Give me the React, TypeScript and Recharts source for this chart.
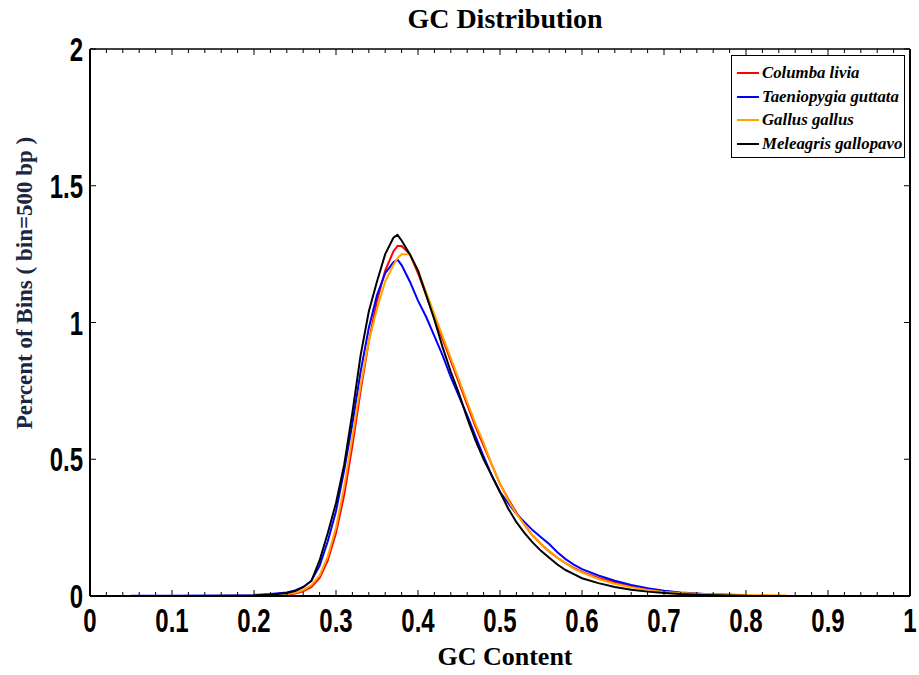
import { LineChart, Line, XAxis, YAxis } from 'recharts'

// GC content bins (x) shared by all four species
const gcContent = [
  0.05, 0.1, 0.15, 0.2, 0.22, 0.24, 0.25, 0.26, 0.27, 0.28, 0.29, 0.3, 0.31, 0.32, 0.33, 0.34, 0.35, 0.36,
  0.37, 0.375, 0.38, 0.39, 0.4, 0.41, 0.42, 0.43, 0.44, 0.45, 0.46, 0.47, 0.48, 0.49, 0.5, 0.51, 0.52,
  0.53, 0.54, 0.55, 0.56, 0.57, 0.58, 0.59, 0.6, 0.62, 0.64, 0.66, 0.68, 0.7, 0.72, 0.75, 0.8, 0.85,
]

const columbaLivia = [
  null, null, null, 0.002, 0.003, 0.005, 0.009, 0.017, 0.033, 0.066, 0.13, 0.23, 0.37, 0.55, 0.75, 0.93, 1.08, 1.19,
  1.26, 1.28, 1.28, 1.25, 1.18, 1.1, 1.02, 0.94, 0.86, 0.78, 0.7, 0.62, 0.55, 0.48, 0.41, 0.355, 0.305,
  0.26, 0.22, 0.19, 0.163, 0.14, 0.12, 0.103, 0.088, 0.066, 0.05, 0.036, 0.025, 0.017, 0.011, 0.006, 0.002, null,
]

const taeniopygiaGuttata = [
  0.001, 0.001, 0.002, 0.004, 0.007, 0.013, 0.02, 0.033, 0.056, 0.11, 0.2, 0.31, 0.46, 0.63, 0.82, 0.98, 1.1, 1.18,
  1.22, 1.23, 1.21, 1.15, 1.08, 1.02, 0.95, 0.88, 0.8, 0.73, 0.66, 0.585, 0.51, 0.44, 0.38, 0.34, 0.3,
  0.27, 0.24, 0.215, 0.19, 0.16, 0.135, 0.115, 0.098, 0.075, 0.056, 0.04, 0.028, 0.019, 0.013, 0.007, 0.003, null,
]

const gallusGallus = [
  null, null, 0.001, 0.002, 0.004, 0.007, 0.012, 0.022, 0.04, 0.075, 0.145, 0.25, 0.4, 0.58, 0.77, 0.93, 1.05, 1.15,
  1.21, 1.235, 1.25, 1.25, 1.19, 1.11, 1.03, 0.95, 0.87, 0.79, 0.71, 0.63, 0.56, 0.48, 0.41, 0.35, 0.3,
  0.26, 0.22, 0.19, 0.165, 0.14, 0.12, 0.1, 0.086, 0.062, 0.045, 0.032, 0.022, 0.015, 0.011, 0.007, 0.004, 0.002,
]

const meleagrisGallopavo = [
  null, null, null, 0.003, 0.005, 0.011, 0.018, 0.032, 0.055, 0.13, 0.23, 0.34, 0.48, 0.67, 0.88, 1.04, 1.15, 1.25,
  1.31, 1.32, 1.3, 1.25, 1.19, 1.1, 1.01, 0.91, 0.82, 0.74, 0.65, 0.57, 0.5, 0.44, 0.38, 0.32, 0.27,
  0.23, 0.195, 0.165, 0.14, 0.115, 0.095, 0.08, 0.065, 0.047, 0.033, 0.023, 0.016, 0.011, 0.007, 0.004, 0.001, null,
]

const xTicks = Array.from({ length: 51 }, (_, i) => i / 50)
const xLabels = ['0', '0.1', '0.2', '0.3', '0.4', '0.5', '0.6', '0.7', '0.8', '0.9', '1']
const yTicks = [0, 0.5, 1, 1.5, 2]
const yLabels = ['0', '0.5', '1', '1.5', '2']

// the last series is plotted on the (identical) top/right axes so those axes get drawn too
const series = [
  { key: 'columba', name: 'Columba livia', color: '#ff0000', values: columbaLivia, x: 'bottom', y: 'left' },
  { key: 'taenio', name: 'Taeniopygia guttata', color: '#0000ff', values: taeniopygiaGuttata, x: 'bottom', y: 'left' },
  { key: 'gallus', name: 'Gallus gallus', color: '#ffa500', values: gallusGallus, x: 'bottom', y: 'left' },
  { key: 'meleagris', name: 'Meleagris gallopavo', color: '#000000', values: meleagrisGallopavo, x: 'top', y: 'right' },
]

const rows = gcContent.map((x, i) => {
  const row: Record<string, number | null> = { x }
  series.forEach(s => (row[s.key] = s.values[i]))
  return row
})

const isMajor = (v: number) => Math.abs(v * 10 - Math.round(v * 10)) < 1e-6
const tickFont = { fontFamily: '"Liberation Sans", Arial, sans-serif', fontWeight: 700, fontSize: 24 }

const BottomTick = ({ x, y, payload }: any) => {
  const major = isMajor(payload.value)
  const idx = Math.round(payload.value * 10)
  return (
    <g>
      <line x1={x} x2={x} y1={y} y2={y - (major ? 6 : 4)} stroke="#000" strokeWidth={1} />
      {major && (
        <text transform={`translate(${x},${y + 36}) scale(1,1.4)`} textAnchor="middle" fill="#000" style={tickFont}>
          {xLabels[idx]}
        </text>
      )}
    </g>
  )
}

const TopTick = ({ x, y, payload }: any) => {
  const major = isMajor(payload.value)
  return <line x1={x} x2={x} y1={y} y2={y + (major ? 6 : 4)} stroke="#000" strokeWidth={1} />
}

const LeftTick = ({ x, y, payload }: any) => {
  const idx = yTicks.indexOf(payload.value)
  return (
    <g>
      <line x1={x} x2={x + 6} y1={y} y2={y} stroke="#000" strokeWidth={1} />
      <text transform={`translate(${x - 7},${y + 12}) scale(1,1.4)`} textAnchor="end" fill="#000" style={tickFont}>
        {yLabels[idx]}
      </text>
    </g>
  )
}

const RightTick = ({ x, y }: any) => <line x1={x} x2={x - 6} y1={y} y2={y} stroke="#000" strokeWidth={1} />

const serif = '"Liberation Serif", "Times New Roman", serif'

export default function App() {
  return (
    <div style={{ position: 'absolute', left: 0, top: 0, width: 919, height: 675, background: '#fff' }}>
      <LineChart width={919} height={675} data={rows} margin={{ top: 48, right: 8, bottom: 0, left: 0 }}>
        <XAxis
          xAxisId="bottom"
          dataKey="x"
          type="number"
          domain={[0, 1]}
          ticks={xTicks}
          interval={0}
          height={79}
          tickSize={0}
          tickMargin={0}
          tickLine={false}
          tick={<BottomTick />}
          axisLine={{ stroke: '#000', strokeWidth: 2 }}
        />
        <XAxis
          xAxisId="top"
          dataKey="x"
          orientation="top"
          type="number"
          domain={[0, 1]}
          ticks={xTicks}
          interval={0}
          height={1}
          tickSize={0}
          tickMargin={0}
          tickLine={false}
          tick={<TopTick />}
          axisLine={{ stroke: '#000', strokeWidth: 1.5 }}
        />
        <YAxis
          yAxisId="left"
          type="number"
          domain={[0, 2]}
          ticks={yTicks}
          interval={0}
          width={90}
          tickSize={0}
          tickMargin={0}
          tickLine={false}
          tick={<LeftTick />}
          axisLine={{ stroke: '#000', strokeWidth: 2 }}
        />
        <YAxis
          yAxisId="right"
          orientation="right"
          type="number"
          domain={[0, 2]}
          ticks={yTicks}
          interval={0}
          width={1}
          tickSize={0}
          tickMargin={0}
          tickLine={false}
          tick={<RightTick />}
          axisLine={{ stroke: '#000', strokeWidth: 2 }}
        />
        {series.map(s => (
          <Line
            key={s.key}
            xAxisId={s.x}
            yAxisId={s.y}
            dataKey={s.key}
            name={s.name}
            type="linear"
            stroke={s.color}
            strokeWidth={2}
            dot={false}
            isAnimationActive={false}
          />
        ))}
      </LineChart>

      <div
        style={{
          position: 'absolute', left: 0, width: 1010, top: 3, textAlign: 'center',
          fontFamily: serif, fontWeight: 700, fontSize: 28, color: '#000',
        }}
      >
        GC Distribution
      </div>
      <div
        style={{
          position: 'absolute', left: 0, width: 1010, top: 642, textAlign: 'center',
          fontFamily: serif, fontWeight: 700, fontSize: 26, color: '#000',
        }}
      >
        GC Content
      </div>
      <div style={{ position: 'absolute', left: 25, top: 283, width: 0, height: 0 }}>
        <div
          style={{
            position: 'absolute', left: -200, top: -14, width: 400, textAlign: 'center',
            transform: 'rotate(-90deg)', fontFamily: serif, fontWeight: 700, fontSize: 23,
            color: '#1c2541', whiteSpace: 'nowrap', lineHeight: '28px',
          }}
        >
          Percent of Bins ( bin=500 bp )
        </div>
      </div>

      <div
        style={{
          position: 'absolute', left: 731, top: 55, width: 174, height: 103,
          border: '1px solid #000', background: '#fff', boxSizing: 'border-box',
        }}
      >
        {series.map((s, i) => (
          <div
            key={s.key}
            style={{ position: 'absolute', left: 5, top: 7 + i * 23.5, height: 20, display: 'flex', alignItems: 'center' }}
          >
            <div style={{ width: 22, height: 2, background: s.color, marginRight: 3 }} />
            <span
              style={{
                fontFamily: serif, fontWeight: 700, fontStyle: 'italic', fontSize: 16.8,
                color: '#000', whiteSpace: 'nowrap',
              }}
            >
              {s.name}
            </span>
          </div>
        ))}
      </div>
    </div>
  )
}
